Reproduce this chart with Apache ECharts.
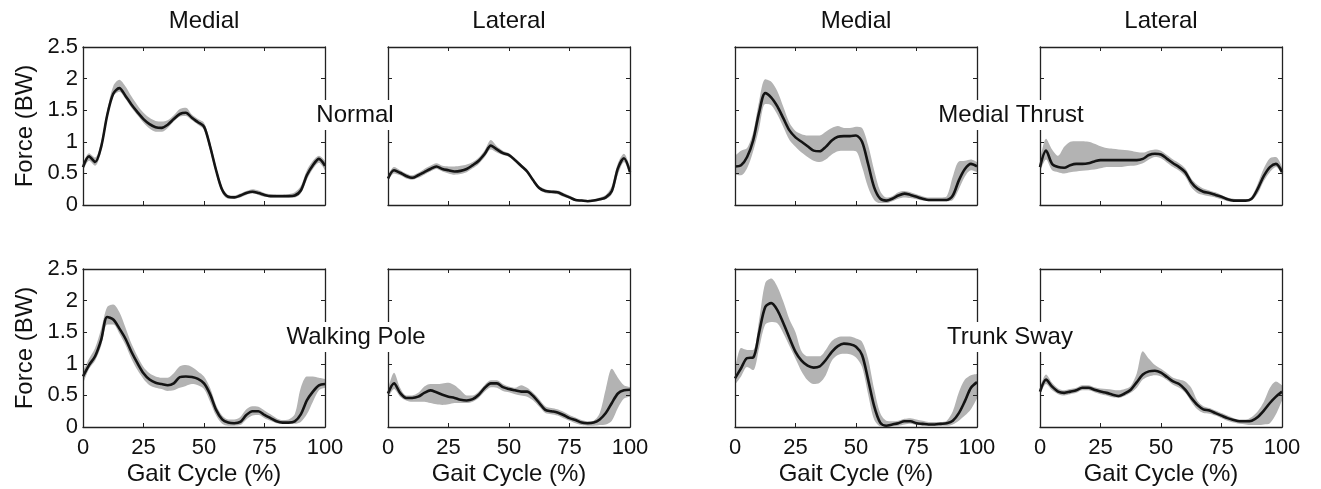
<!DOCTYPE html>
<html>
<head>
<meta charset="utf-8">
<script src="https://cdn.jsdelivr.net/npm/echarts@6/dist/echarts.min.js"></script>
<style>
html, body { margin: 0; background: #fff; }
#main { width: 1321px; height: 489px; }
</style>
</head>
<body>
<div id="main"></div>
<script>
// gait cycle sampled every 2.5 %
var gaitPct = [];
for (var k = 0; k <= 40; k++) gaitPct.push(String(k * 2.5));
var xTicks = ['0', '25', '50', '75', '100'];
var yTicks = [0, 0.5, 1, 1.5, 2, 2.5];

var colTitles = ['Medial', 'Lateral', 'Medial', 'Lateral'];
var rowLabels = ['Normal', 'Medial Thrust', 'Walking Pole', 'Trunk Sway'];

// Normal - medial
var normMedMean = [0.60,0.77,0.68,0.92,1.42,1.76,1.85,1.73,1.59,1.47,1.36,1.28,1.23,1.22,1.27,1.36,1.44,1.46,1.38,1.31,1.24,0.93,0.55,0.24,0.13,0.12,0.15,0.19,0.21,0.19,0.16,0.14,0.14,0.14,0.14,0.15,0.23,0.47,0.63,0.73,0.62];
var normMedLo = [0.54,0.70,0.62,0.85,1.36,1.72,1.79,1.68,1.54,1.42,1.30,1.21,1.16,1.16,1.22,1.32,1.40,1.41,1.34,1.27,1.19,0.86,0.50,0.19,0.10,0.10,0.12,0.16,0.18,0.16,0.13,0.12,0.12,0.12,0.12,0.12,0.18,0.40,0.57,0.67,0.55];
var normMedHi = [0.66,0.82,0.75,1.00,1.50,1.88,1.98,1.88,1.72,1.58,1.46,1.38,1.33,1.32,1.34,1.42,1.52,1.54,1.43,1.36,1.30,1.00,0.61,0.29,0.16,0.15,0.18,0.22,0.25,0.23,0.19,0.17,0.16,0.16,0.17,0.20,0.30,0.55,0.70,0.78,0.70];

// Normal - lateral
var normLatMean = [0.42,0.55,0.51,0.46,0.43,0.47,0.52,0.57,0.61,0.57,0.55,0.53,0.54,0.57,0.63,0.70,0.81,0.94,0.88,0.82,0.79,0.71,0.62,0.53,0.39,0.27,0.22,0.21,0.20,0.16,0.12,0.08,0.07,0.06,0.07,0.09,0.12,0.22,0.58,0.74,0.52];
var normLatLo = [0.37,0.50,0.47,0.42,0.40,0.43,0.48,0.53,0.57,0.53,0.50,0.48,0.49,0.52,0.58,0.65,0.76,0.88,0.83,0.79,0.76,0.68,0.59,0.50,0.36,0.24,0.19,0.18,0.17,0.13,0.10,0.06,0.05,0.05,0.05,0.07,0.09,0.17,0.48,0.68,0.47];
var normLatHi = [0.47,0.60,0.55,0.50,0.47,0.51,0.57,0.62,0.66,0.62,0.61,0.61,0.62,0.64,0.68,0.75,0.87,1.03,0.93,0.86,0.82,0.74,0.65,0.56,0.42,0.30,0.25,0.23,0.23,0.19,0.15,0.10,0.09,0.08,0.09,0.12,0.16,0.30,0.66,0.81,0.60];

// Medial thrust - medial
var thrMedMean = [0.61,0.63,0.76,1.02,1.47,1.77,1.70,1.56,1.37,1.18,1.07,1.00,0.93,0.86,0.85,0.92,1.02,1.08,1.09,1.09,1.10,1.00,0.65,0.28,0.10,0.07,0.10,0.15,0.18,0.16,0.13,0.10,0.08,0.08,0.08,0.08,0.15,0.39,0.57,0.65,0.61];
var thrMedLo = [0.48,0.47,0.58,0.85,1.22,1.60,1.58,1.43,1.23,1.03,0.92,0.83,0.76,0.70,0.68,0.72,0.80,0.85,0.86,0.86,0.85,0.60,0.28,0.08,0.03,0.03,0.06,0.10,0.12,0.11,0.09,0.07,0.06,0.06,0.06,0.06,0.08,0.25,0.45,0.55,0.52];
var thrMedHi = [0.78,0.86,0.90,1.15,1.65,1.99,1.95,1.80,1.55,1.30,1.17,1.12,1.10,1.10,1.10,1.16,1.22,1.25,1.22,1.22,1.24,1.22,0.95,0.55,0.22,0.12,0.14,0.20,0.22,0.20,0.17,0.14,0.12,0.12,0.12,0.14,0.45,0.69,0.70,0.72,0.68];

// Medial thrust - lateral
var thrLatMean = [0.60,0.86,0.65,0.60,0.59,0.63,0.65,0.65,0.66,0.69,0.71,0.71,0.71,0.71,0.71,0.71,0.71,0.73,0.79,0.81,0.80,0.73,0.66,0.60,0.52,0.36,0.26,0.21,0.19,0.16,0.13,0.09,0.07,0.07,0.07,0.10,0.26,0.46,0.60,0.65,0.52];
var thrLatLo = [0.52,0.72,0.55,0.52,0.50,0.52,0.53,0.54,0.55,0.56,0.58,0.60,0.60,0.60,0.61,0.62,0.63,0.66,0.72,0.76,0.74,0.67,0.60,0.54,0.45,0.28,0.19,0.16,0.14,0.12,0.09,0.06,0.05,0.05,0.05,0.07,0.18,0.38,0.52,0.60,0.48];
var thrLatHi = [0.70,1.05,0.88,0.78,0.92,1.00,1.01,1.01,1.00,0.97,0.93,0.90,0.89,0.88,0.87,0.86,0.84,0.83,0.86,0.88,0.86,0.79,0.72,0.66,0.58,0.42,0.32,0.26,0.23,0.20,0.16,0.12,0.10,0.09,0.09,0.14,0.34,0.58,0.74,0.76,0.60];

// Walking pole - medial
var poleMedMean = [0.80,0.98,1.12,1.38,1.74,1.70,1.56,1.40,1.19,1.01,0.85,0.75,0.70,0.68,0.66,0.69,0.79,0.80,0.79,0.76,0.69,0.52,0.27,0.12,0.07,0.06,0.08,0.19,0.25,0.25,0.19,0.14,0.09,0.07,0.07,0.09,0.20,0.42,0.56,0.66,0.68];
var poleMedLo = [0.68,0.92,1.05,1.28,1.62,1.62,1.48,1.30,1.08,0.90,0.76,0.66,0.62,0.60,0.57,0.58,0.62,0.65,0.68,0.66,0.60,0.40,0.18,0.05,0.02,0.02,0.03,0.12,0.18,0.19,0.14,0.10,0.06,0.05,0.05,0.05,0.08,0.20,0.40,0.58,0.62];
var poleMedHi = [0.88,1.08,1.25,1.55,1.90,1.94,1.82,1.58,1.32,1.12,0.95,0.85,0.80,0.78,0.78,0.85,0.96,0.98,0.95,0.88,0.80,0.62,0.35,0.18,0.12,0.12,0.16,0.28,0.33,0.32,0.26,0.20,0.14,0.11,0.12,0.20,0.62,0.80,0.80,0.78,0.76];

// Walking pole - lateral
var poleLatMean = [0.53,0.69,0.54,0.46,0.46,0.48,0.54,0.58,0.55,0.51,0.48,0.46,0.43,0.42,0.44,0.51,0.62,0.69,0.69,0.63,0.60,0.58,0.56,0.56,0.49,0.38,0.27,0.25,0.23,0.19,0.14,0.11,0.07,0.06,0.07,0.12,0.22,0.38,0.53,0.58,0.59];
var poleLatLo = [0.45,0.60,0.48,0.42,0.40,0.40,0.40,0.38,0.36,0.35,0.36,0.38,0.38,0.38,0.40,0.46,0.56,0.63,0.62,0.57,0.55,0.52,0.50,0.48,0.42,0.32,0.22,0.20,0.18,0.14,0.10,0.06,0.03,0.02,0.02,0.03,0.04,0.10,0.30,0.45,0.48];
var poleLatHi = [0.60,0.86,0.62,0.50,0.50,0.54,0.64,0.68,0.68,0.69,0.70,0.66,0.58,0.50,0.50,0.56,0.67,0.74,0.74,0.68,0.64,0.62,0.66,0.62,0.54,0.44,0.33,0.30,0.28,0.24,0.19,0.15,0.11,0.09,0.10,0.22,0.60,0.92,0.78,0.66,0.63];

// Trunk sway - medial
var swayMedMean = [0.77,0.93,1.09,1.10,1.50,1.90,1.96,1.85,1.64,1.41,1.19,1.05,0.97,0.94,0.96,1.06,1.19,1.28,1.32,1.31,1.27,1.14,0.75,0.33,0.07,0.02,0.04,0.06,0.09,0.09,0.06,0.05,0.04,0.04,0.05,0.06,0.10,0.22,0.41,0.62,0.71];
var swayMedLo = [0.67,0.80,0.95,0.90,1.25,1.62,1.66,1.64,1.48,1.28,1.08,0.88,0.74,0.68,0.70,0.82,1.05,1.14,1.16,1.15,1.10,0.95,0.52,0.12,0.01,0.00,0.01,0.02,0.04,0.05,0.03,0.02,0.02,0.02,0.02,0.02,0.04,0.10,0.18,0.28,0.45];
var swayMedHi = [0.88,1.25,1.22,1.22,1.70,2.28,2.35,2.22,1.98,1.70,1.50,1.20,1.12,1.12,1.12,1.22,1.36,1.42,1.43,1.43,1.40,1.35,1.08,0.60,0.22,0.10,0.09,0.10,0.13,0.14,0.12,0.10,0.08,0.08,0.08,0.10,0.25,0.55,0.75,0.82,0.84];

// Trunk sway - lateral
var swayLatMean = [0.56,0.75,0.64,0.56,0.54,0.56,0.58,0.62,0.62,0.59,0.56,0.54,0.51,0.49,0.53,0.59,0.71,0.83,0.88,0.89,0.86,0.79,0.72,0.68,0.59,0.46,0.35,0.28,0.26,0.22,0.18,0.14,0.11,0.09,0.09,0.10,0.16,0.26,0.38,0.48,0.56];
var swayLatLo = [0.50,0.68,0.58,0.52,0.50,0.52,0.54,0.58,0.58,0.55,0.52,0.50,0.47,0.46,0.49,0.54,0.62,0.75,0.80,0.82,0.80,0.74,0.67,0.62,0.54,0.40,0.28,0.22,0.21,0.18,0.14,0.10,0.07,0.05,0.04,0.03,0.03,0.04,0.06,0.20,0.42];
var swayLatHi = [0.62,0.83,0.70,0.61,0.58,0.60,0.62,0.66,0.66,0.63,0.61,0.60,0.59,0.58,0.60,0.65,0.85,1.20,1.08,0.98,0.92,0.85,0.78,0.75,0.72,0.62,0.42,0.33,0.30,0.26,0.22,0.18,0.14,0.12,0.12,0.16,0.25,0.40,0.62,0.72,0.66];

var panels = [
    { row: 0, col: 0, mean: normMedMean, lo: normMedLo, hi: normMedHi },
    { row: 0, col: 1, mean: normLatMean, lo: normLatLo, hi: normLatHi },
    { row: 0, col: 2, mean: thrMedMean, lo: thrMedLo, hi: thrMedHi },
    { row: 0, col: 3, mean: thrLatMean, lo: thrLatLo, hi: thrLatHi },
    { row: 1, col: 0, mean: poleMedMean, lo: poleMedLo, hi: poleMedHi },
    { row: 1, col: 1, mean: poleLatMean, lo: poleLatLo, hi: poleLatHi },
    { row: 1, col: 2, mean: swayMedMean, lo: swayMedLo, hi: swayMedHi },
    { row: 1, col: 3, mean: swayLatMean, lo: swayLatLo, hi: swayLatHi }
];

// layout (px)
var colLeft = [83, 388, 735, 1040];
var rowTop = [47, 269];
var panelW = 242, panelH = 158;

var FONT = 'Liberation Sans, Arial, Helvetica, sans-serif';
var ink = '#222';

var grids = [], xAxes = [], yAxes = [], series = [];

panels.forEach(function (p, i) {
    grids.push({ left: colLeft[p.col], top: rowTop[p.row], width: panelW, height: panelH });

    var tickX = { show: true, inside: true, length: 4, interval: 9, lineStyle: { color: ink, width: 1 } };
    var tickY = { show: true, inside: true, length: 4, lineStyle: { color: ink, width: 1 } };
    var line = { show: true, onZero: false, lineStyle: { color: ink, width: 1.3 } };

    // bottom + top x axes
    xAxes.push({
        gridIndex: i, type: 'category', data: gaitPct, boundaryGap: false, position: 'bottom', z: 10,
        axisLine: line, axisTick: tickX,
        axisLabel: {
            show: p.row === 1, interval: 9, margin: 10, color: '#111', fontSize: 22, fontFamily: FONT,
            formatter: function (v) { return xTicks.indexOf(v) >= 0 ? v : ''; }
        },
        name: p.row === 1 ? 'Gait Cycle (%)' : '', nameLocation: 'middle', nameGap: 35,
        nameTextStyle: { color: '#111', fontSize: 24, fontFamily: FONT },
        splitLine: { show: false }
    });
    xAxes.push({
        gridIndex: i, type: 'category', data: gaitPct, boundaryGap: false, position: 'top', z: 10,
        axisLine: line, axisTick: tickX, axisLabel: { show: false }, splitLine: { show: false }
    });

    // left + right y axes
    yAxes.push({
        gridIndex: i, type: 'value', min: yTicks[0], max: yTicks[yTicks.length - 1], interval: 0.5,
        position: 'left', z: 10,
        axisLine: line, axisTick: tickY, splitLine: { show: false },
        axisLabel: { show: p.col === 0, margin: 5, color: '#111', fontSize: 22, fontFamily: FONT },
        name: p.col === 0 ? 'Force (BW)' : '', nameLocation: 'middle', nameGap: 46, nameRotate: 90,
        nameTextStyle: { color: '#111', fontSize: 24, fontFamily: FONT }
    });
    yAxes.push({
        gridIndex: i, type: 'value', min: yTicks[0], max: yTicks[yTicks.length - 1], interval: 0.5,
        position: 'right', z: 10,
        axisLine: line, axisTick: tickY, axisLabel: { show: false }, splitLine: { show: false }
    });

    var ax = 2 * i;
    var spread = p.hi.map(function (h, j) { return +(h - p.lo[j]).toFixed(3); });

    series.push({
        type: 'line', xAxisIndex: ax, yAxisIndex: ax, data: p.lo, stack: 'band' + i,
        symbol: 'none', smooth: 0.3, lineStyle: { opacity: 0 }, silent: true, z: 2
    });
    series.push({
        type: 'line', xAxisIndex: ax, yAxisIndex: ax, data: spread, stack: 'band' + i,
        symbol: 'none', smooth: 0.3, lineStyle: { opacity: 0 },
        areaStyle: { color: '#b3b3b3', opacity: 1 }, silent: true, z: 2
    });
    series.push({
        type: 'line', xAxisIndex: ax, yAxisIndex: ax, data: p.mean,
        symbol: 'none', smooth: 0.3, lineStyle: { color: '#141414', width: 2.6 }, z: 3
    });
});

var titles = colTitles.map(function (t, c) {
    return {
        text: t, left: colLeft[c] + panelW / 2, top: 9, textAlign: 'center', padding: 0,
        textStyle: { color: '#111', fontSize: 24, fontWeight: 'normal', fontFamily: FONT }
    };
});

// row labels sit between the two panels of each pair, on a white box
var labelPos = [[355, 115], [1011, 115], [356, 337], [1010, 337]];
var graphics = rowLabels.map(function (t, i) {
    return {
        type: 'text', z: 100, silent: true,
        style: {
            text: t, x: labelPos[i][0], y: labelPos[i][1], align: 'center', verticalAlign: 'middle',
            fill: '#111', font: '24px ' + FONT, backgroundColor: '#fff', padding: [3, 1]
        }
    };
});

var myChart = echarts.init(document.getElementById('main'), null, { renderer: 'canvas' });
myChart.setOption({
    animation: false,
    backgroundColor: '#fff',
    title: titles,
    grid: grids,
    xAxis: xAxes,
    yAxis: yAxes,
    series: series,
    graphic: graphics
});
</script>
</body>
</html>
